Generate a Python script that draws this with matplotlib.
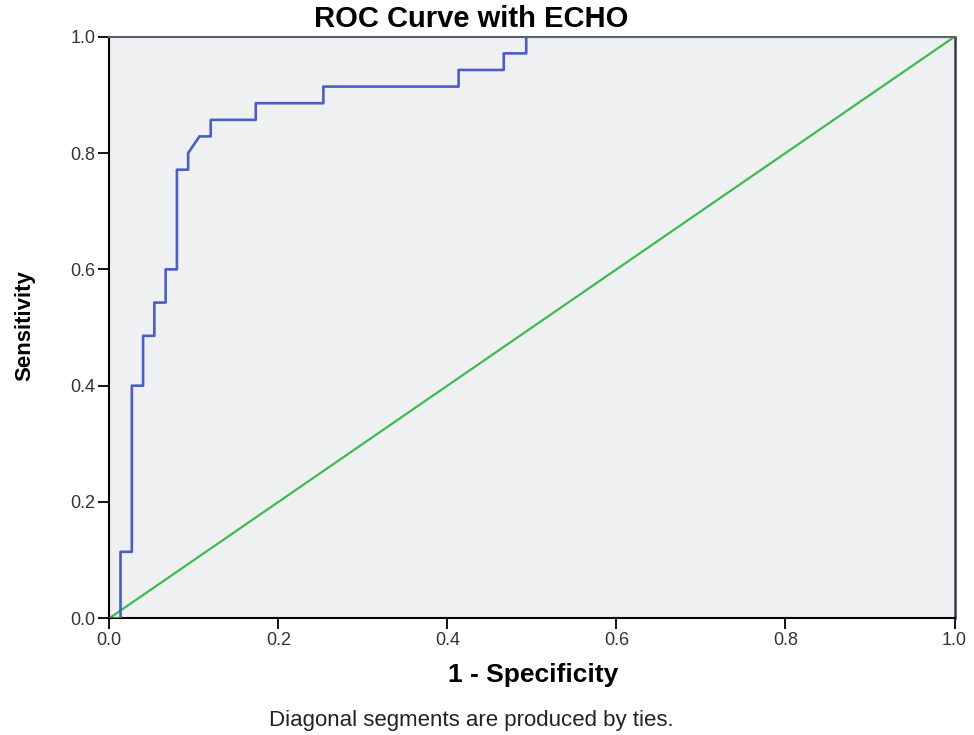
import matplotlib
matplotlib.use("Agg")
import matplotlib.pyplot as plt
import logging
logging.getLogger("matplotlib.font_manager").setLevel(logging.ERROR)

# ROC curve points (1 - specificity, sensitivity)
fpr = [0.0, 0.0133, 0.0133, 0.0267, 0.0267, 0.0400, 0.0400, 0.0533, 0.0533,
       0.0667, 0.0667, 0.0800, 0.0800, 0.0933, 0.0933, 0.1067, 0.1200, 0.1200,
       0.1733, 0.1733, 0.2533, 0.2533, 0.4133, 0.4133, 0.4667, 0.4667, 0.4933,
       0.4933, 1.0]
tpr = [0.0, 0.0, 0.1143, 0.1143, 0.4000, 0.4000, 0.4857, 0.4857, 0.5429,
       0.5429, 0.6000, 0.6000, 0.7714, 0.7714, 0.8000, 0.8286, 0.8286, 0.8571,
       0.8571, 0.8857, 0.8857, 0.9143, 0.9143, 0.9429, 0.9429, 0.9714, 0.9714,
       1.0, 1.0]
ref_line = [0.0, 1.0]
ticks = [0.0, 0.2, 0.4, 0.6, 0.8, 1.0]
tick_labels = ["0.0", "0.2", "0.4", "0.6", "0.8", "1.0"]

plt.rcParams['font.family'] = ['Liberation Sans', 'DejaVu Sans']

fig = plt.figure(figsize=(9.74, 7.35), dpi=100)
ax = fig.add_axes([0.1122, 0.1588, 0.8678, 0.7912])
ax.set_facecolor('#EFF0F2')

ax.plot(ref_line, ref_line, color='#3FBA4C', lw=1.6, zorder=2)
ax.plot(fpr, tpr, color='#4A5FC0', lw=1.9, zorder=3)

ax.set_xlim(0, 1)
ax.set_ylim(0, 1)
ax.set_xticks(ticks)
ax.set_xticklabels(tick_labels)
ax.set_yticks(ticks)
ax.set_yticklabels(tick_labels)
ax.tick_params(axis='both', direction='out', length=8, width=1.3,
               labelsize=13, labelcolor='#333333', pad=2)

for s in ['left', 'bottom']:
    ax.spines[s].set_color('black')
    ax.spines[s].set_linewidth(1.5)
ax.spines['top'].set_color('#5a5e68')
ax.spines['top'].set_linewidth(1.5)
ax.spines['right'].set_color('#333a48')
ax.spines['right'].set_linewidth(1.8)

fig.text(0.484, 0.974, "ROC Curve with ECHO", ha='center', va='center',
         fontsize=21, fontweight='bold')
fig.text(0.547, 0.081, "1 - Specificity", ha='center', va='center',
         fontsize=19, fontweight='bold')
fig.text(0.026, 0.557, "Sensitivity", ha='center', va='center', rotation=90,
         fontsize=16, fontweight='bold')
fig.text(0.484, 0.020, "Diagonal segments are produced by ties.", ha='center',
         va='center', fontsize=16, color='#222222')

fig.savefig("out.png", dpi=100)
